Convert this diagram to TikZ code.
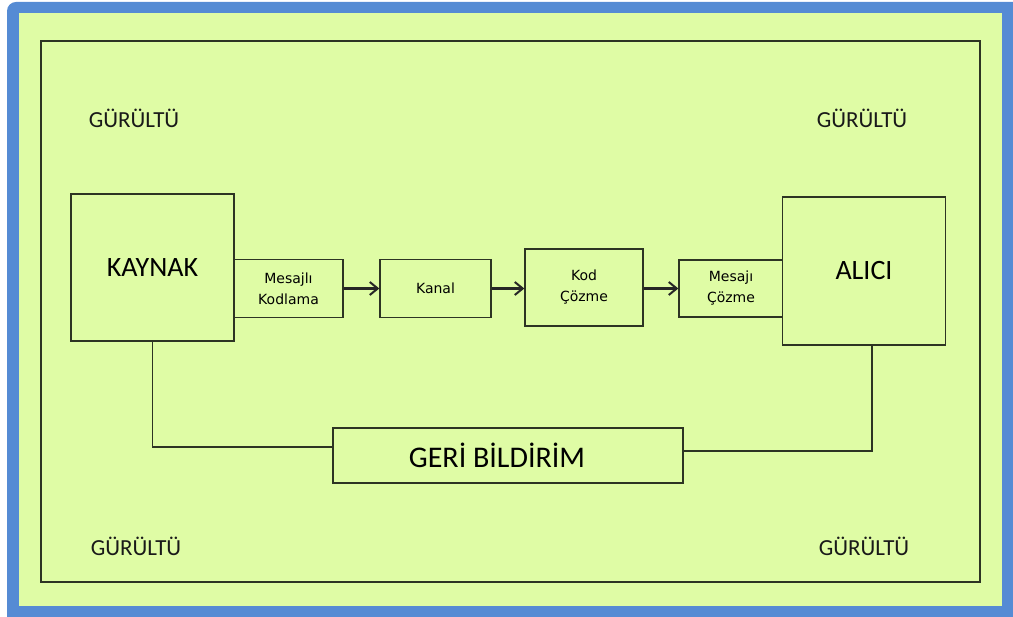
\documentclass[tikz,border=0pt]{standalone}
\usepackage{fontspec}
\usetikzlibrary{arrows.meta}
\newfontfamily\carl{Carlito}
\newfontfamily\dvs{DejaVu Sans}
\definecolor{framblue}{RGB}{85,139,212}
\definecolor{paper}{RGB}{223,252,165}
\definecolor{ink}{RGB}{45,52,35}
\tikzset{
  box/.style={draw=ink, line width=1.3pt, fill=paper, inner sep=0pt, align=center},
  smallbox/.style={box, font=\dvs\fontsize{14}{21}\selectfont},
  bigbox/.style={box, font=\carl\fontsize{28}{30}\selectfont},
  noise/.style={font=\carl\fontsize{23}{26}\selectfont, text=black!90},
  link/.style={draw=ink, line width=1.3pt},
  flow/.style={draw=black!85, line width=2.8pt, -{Straight Barb[length=8pt,width=13pt,line width=2pt]}}
}
\begin{document}
\begin{tikzpicture}[x=1pt,y=-1pt]
\useasboundingbox (0,0) rectangle (1013,617);
% frame and panel
\fill[framblue, rounded corners=9pt] (7,2) rectangle (1030,630);
\fill[paper] (19,13) rectangle (1002,606);
\draw[ink, line width=1.3pt] (41,41) rectangle (980,582);

% noise labels
\node[noise] (n1) at (134,118) {GÜRÜLTÜ};
\node[noise] (n2) at (862,118) {GÜRÜLTÜ};
\node[noise] (n3) at (136,546) {GÜRÜLTÜ};
\node[noise] (n4) at (864,546) {GÜRÜLTÜ};

% main blocks
\node[bigbox, minimum width=163pt, minimum height=147pt] (kaynak) at (152.5,267.5) {\raisebox{-3pt}{KAYNAK}};
\node[smallbox, minimum width=109pt, minimum height=58pt] (kodlama) at (288.5,288.5) {Mesajlı\\Kodlama};
\node[smallbox, minimum width=111pt, minimum height=58pt] (kanal) at (435.5,288.5) {Kanal};
\node[smallbox, minimum width=118pt, minimum height=77pt] (kodcoz) at (584,287.5) {Kod\\Çözme};
\node[smallbox, minimum width=104pt, minimum height=57pt] (mescoz) at (731,288.5) {Mesajı\\Çözme};
\node[bigbox, minimum width=163pt, minimum height=148pt] (alici) at (864,271) {ALICI};
\node[bigbox, minimum width=350pt, minimum height=55pt, font=\carl\fontsize{30}{32}\selectfont] (geri) at (508,455.5) {\kern-22pt GERİ BİLDİRİM};

% message flow
\draw[flow] (kodlama.east) -- (kanal.west);
\draw[flow] (kanal.east) -- (kanal.east -| kodcoz.west);
\draw[flow] (kodcoz.east |- mescoz.west) -- (mescoz.west);

% feedback path
\draw[link] (kaynak.south) |- ([yshift=8.5pt]geri.west);
\draw[link] ([xshift=8pt]alici.south) |- ([yshift=4.5pt]geri.east);
\end{tikzpicture}
\end{document}
